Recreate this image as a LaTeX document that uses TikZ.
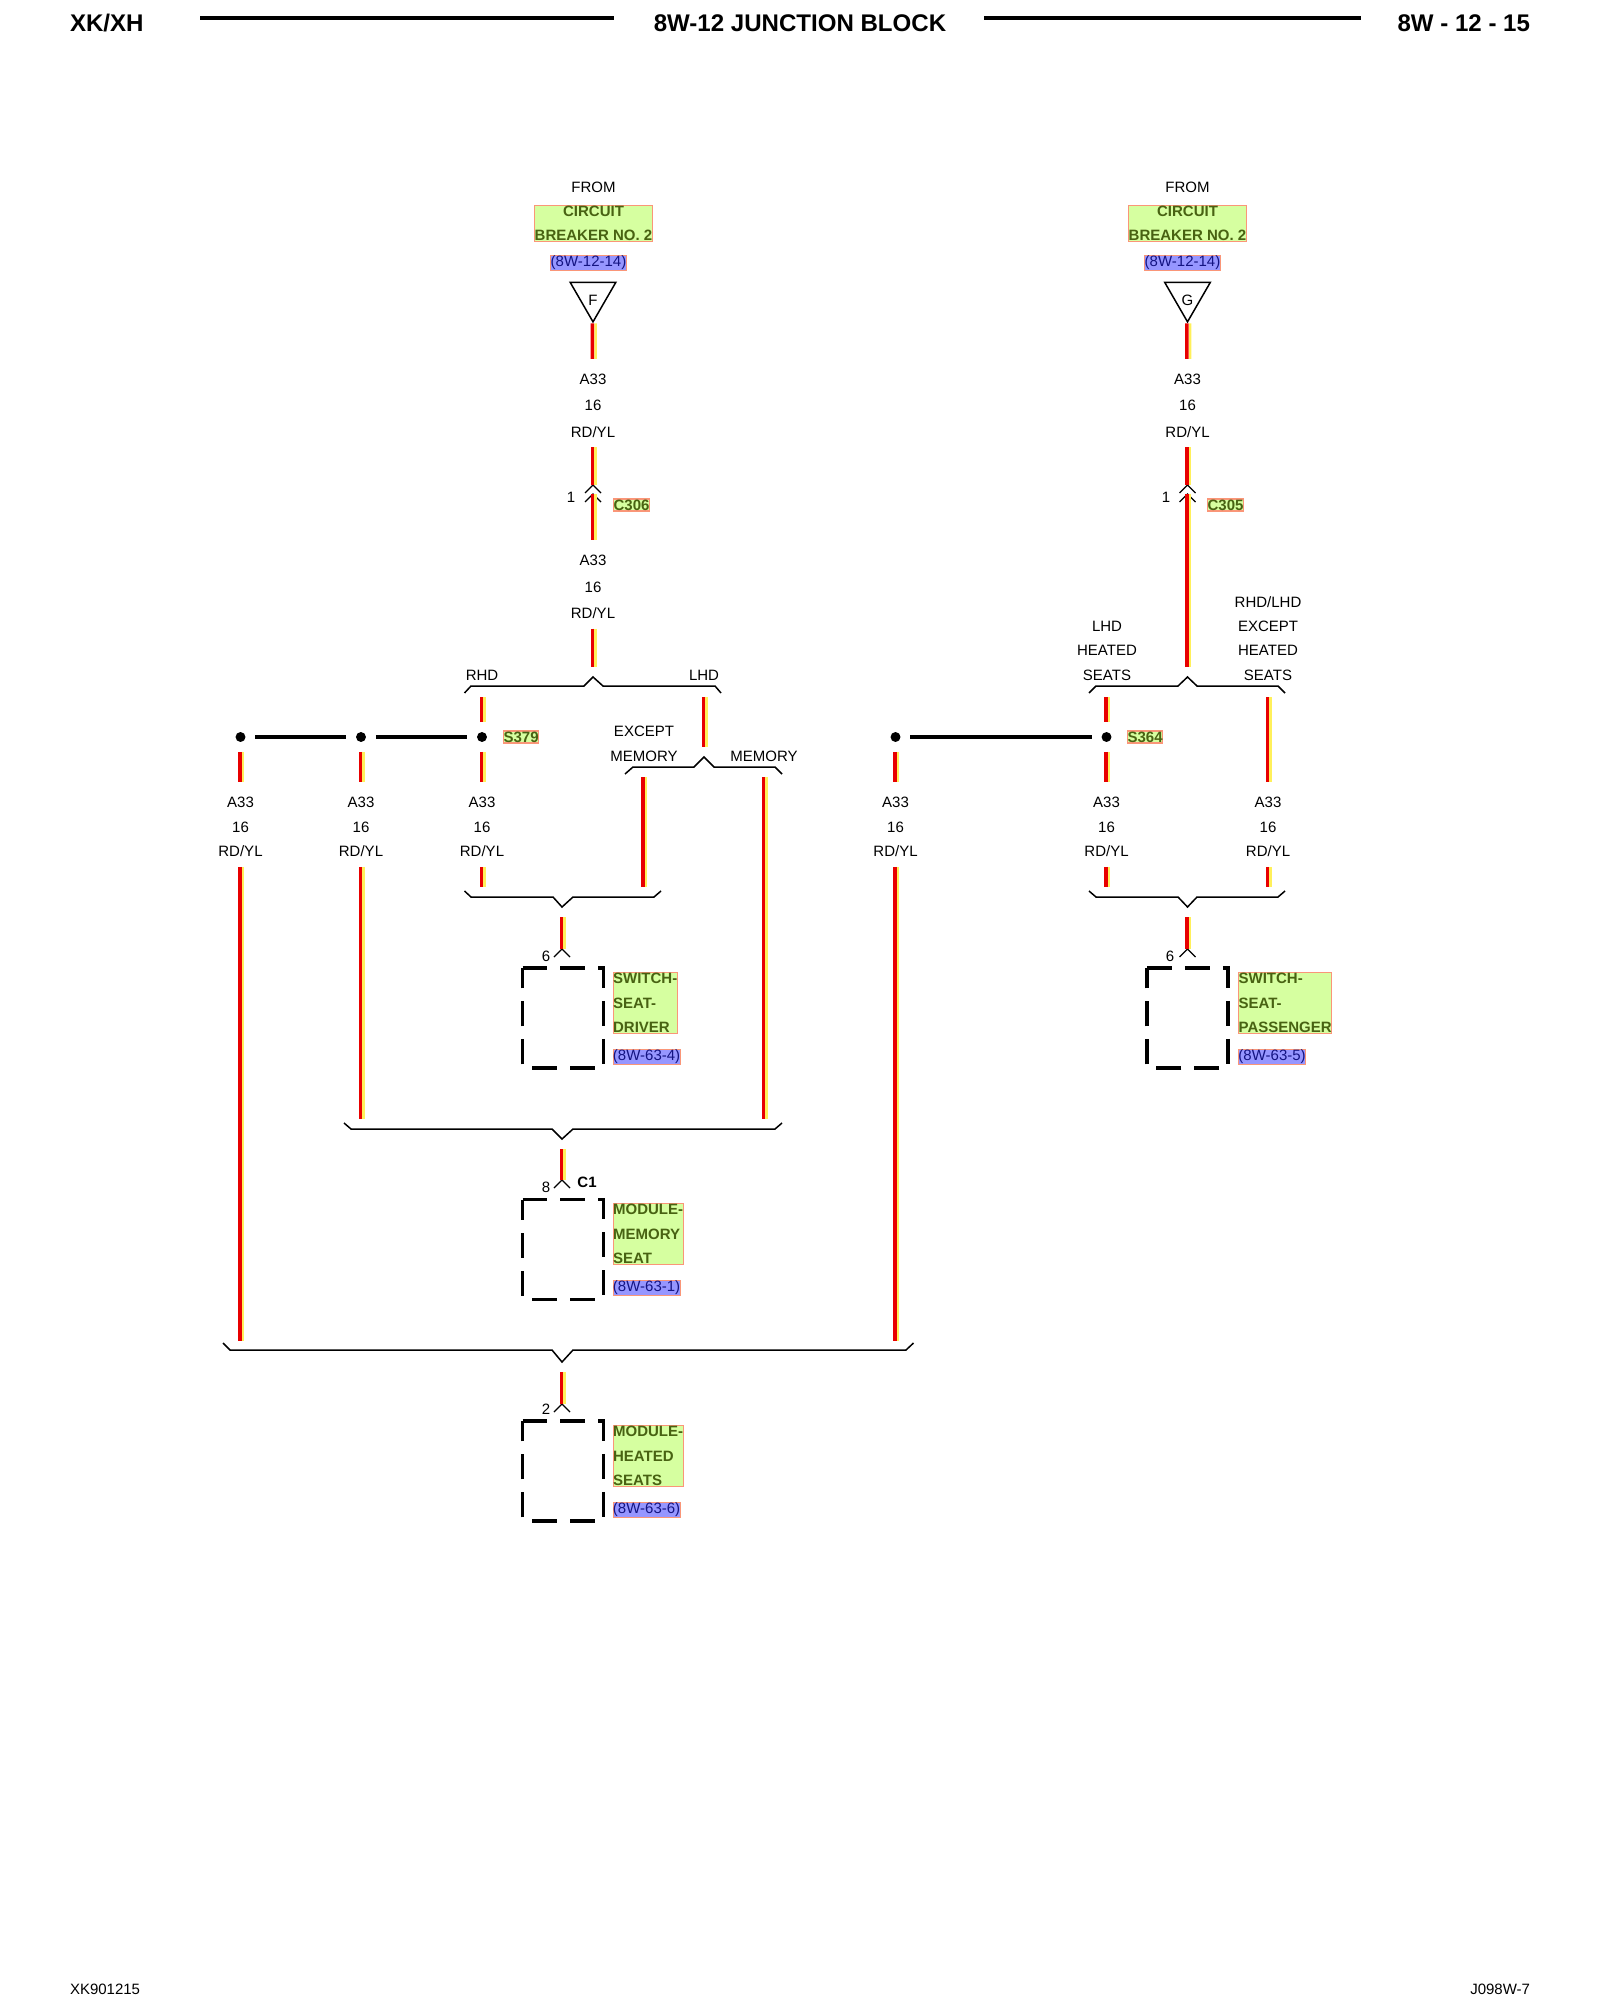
\documentclass[tikz,border=0pt]{standalone}
\usepackage{fontspec}
\setmainfont{Liberation Sans}
\usetikzlibrary{positioning,shapes.geometric}

\definecolor{wirered}{RGB}{232,0,0}
\definecolor{wireyl}{RGB}{255,240,90}
\definecolor{tagfill}{RGB}{214,255,160}
\definecolor{tagtext}{RGB}{72,98,18}
\definecolor{tagline}{RGB}{250,150,120}
\definecolor{reffill}{RGB}{150,150,255}
\definecolor{reftext}{RGB}{20,20,130}

\tikzset{
  txt/.style={inner sep=0pt,outer sep=0pt,text height=6.1pt,text depth=0pt,font=\fontsize{8.54}{10}\selectfont},
  wlbl/.style={inner sep=0pt,outer sep=0pt,align=center,font=\fontsize{8.54}{13.9}\selectfont},
  wlbltop/.style={wlbl,font=\fontsize{8.54}{15}\selectfont},
  tag/.style={inner xsep=0pt,inner ysep=.4pt,draw=tagline,fill=tagfill,text=tagtext,line width=.7pt,align=left,font=\fontsize{8.54}{13.9}\selectfont\bfseries},
  ref/.style={inner xsep=0pt,inner ysep=.4pt,draw=tagline,fill=reffill,text=reftext,line width=.5pt,font=\fontsize{8.54}{10}\selectfont},
  head/.style={inner sep=0pt,outer sep=0pt,font=\fontsize{13.7}{16}\selectfont\bfseries},
  wire/.style={draw=wirered,line width=2pt,transform canvas={xshift=-.4pt},preaction={draw=wireyl,line width=1.5pt,transform canvas={xshift=1.5pt}}},
  to lbl/.style={shorten >=8.5pt},
  from lbl/.style={shorten <=5.7pt},
  to gap/.style={shorten >=5.7pt},
  from gap/.style={shorten <=5.7pt},
  bus/.style={draw=black,line width=2.2pt},
  spl/.style={circle,fill=black,inner sep=2pt,outer sep=5.6pt},
  forkline/.style={draw=black,line width=.85pt},
  srcmark/.style={draw=black,line width=.85pt,regular polygon,regular polygon sides=3,shape border rotate=180,minimum size=30pt,inner sep=0pt,font=\fontsize{8.54}{10}\selectfont},
  devbody/.style={minimum width=46.1pt,minimum height=56.9pt,inner sep=0pt,outer sep=0pt},
  dashbox/.style={draw=black,line width=1.8pt,dash pattern=on 14.2pt off 7.4pt},
  chevron/.pic={\draw[black,line width=.7pt] (-8,8) -- (0,0) -- (8,8);}
}

\newcommand{\devbox}[2]{%
  \node[devbody] (#1) at (#2) {};
  \draw[dashbox] (#1.north west) -- (#1.north east) -- (#1.south east) -- (#1.south west) -- cycle;
}

\begin{document}
\begin{tikzpicture}[x=0.02cm,y=-0.02cm]
  \useasboundingbox (0,0) rectangle (1600,2000);

  % header and footer
  \node[head,anchor=west] (hleft) at (70,23) {XK/XH};
  \node[head] (htitle) at (800,23) {8W-12 JUNCTION BLOCK};
  \node[head,anchor=east] (hright) at (1530,23) {8W - 12 - 15};
  \draw[bus,line width=2.6pt] (200,18) -- (614,18);
  \draw[bus,line width=2.6pt] (984,18) -- (1361,18);
  \node[txt,anchor=west] (fleft) at (70,1989) {XK901215};
  \node[txt,anchor=east] (fright) at (1530,1989) {J098W-7};

  % feed F
  \node[tag,align=center] (cbf) at (593.5,223.5) {CIRCUIT\\BREAKER NO. 2};
  \node[txt,above=6.8pt of cbf] (fromf) {FROM};
  \node[ref] (reff) at (588.5,263) {(8W-12-14)};
  \node[srcmark] (srcf) at (593,295.5) {\raisebox{-5.6pt}[0pt][0pt]{F}};
  \node[wlbltop] (lblf) at (593,405.5) {A33\\16\\RD/YL};
  \coordinate (pinc) at (593,485);
  \coordinate (pincb) at (593,494);
  \pic at (pinc) {chevron};
  \pic at (pincb) {chevron};
  \node[txt] (nc) at (571,497) {1};
  \node[tag,font=\fontsize{8.54}{10}\selectfont\bfseries,anchor=west] (cf) at (613,505) {C306};
  \node[wlbltop] (lblg) at (593,587) {A33\\16\\RD/YL};

  \draw[wire,to lbl] (srcf.south) -- (lblf.north);
  \draw[wire,from lbl] (lblf.south) -- (pinc);
  \draw[wire,to lbl] (pincb) -- (lblg.north);

  % RHD / LHD
  \draw[forkline] (464.5,693) -- (471,686) -- (584,686) -- (593,677) coordinate (forka) -- (603,686) -- (715,686) -- (721,693);
  \node[txt] (rhd) at (482,675) {RHD};
  \node[txt] (lhd) at (704,675) {LHD};
  \draw[wire,from lbl,to gap] (lblg.south) -- (forka);
  \coordinate (legrhd) at (482,697);
  \coordinate (leglhd) at (704,697);

  \node[spl] (spa) at (240.5,737) {};
  \node[spl] (spb) at (361,737) {};
  \node[spl] (spc) at (482,737) {};
  \node[tag,font=\fontsize{8.54}{10}\selectfont\bfseries,anchor=west] (slf) at (503,737) {S379};
  \draw[bus] (spa) -- (spb);
  \draw[bus] (spb) -- (spc);
  \draw[wire] (legrhd) -- (spc);

  % memory split
  \node[txt] (exc) at (644,731) {EXCEPT};
  \node[txt] (memx) at (644,756) {MEMORY};
  \node[txt] (memy) at (764,756) {MEMORY};
  \draw[forkline] (625,774) -- (633,767) -- (694,767) -- (704,757) coordinate (forkb) -- (714,767) -- (775,767) -- (782,774);
  \draw[wire,to gap] (leglhd) -- (forkb);
  \coordinate (legx) at (643.5,777);
  \coordinate (legy) at (764,777);

  % wire labels
  \foreach \nm/\xx in {a33a/240.5,a33b/361,a33c/482,a33h/895.5,a33i/1106.5,a33j/1268}
    \node[wlbl] (\nm) at (\xx,827) {A33\\16\\RD/YL};

  \draw[wire,to lbl] (spa) -- (a33a.north);
  \draw[wire,to lbl] (spb) -- (a33b.north);
  \draw[wire,to lbl] (spc) -- (a33c.north);

  % driver switch
  \draw[forkline] (464.5,891) -- (471,897) -- (553,897) -- (562,907) coordinate (forkc) -- (573,897) -- (654,897) -- (661,891);
  \coordinate (endc) at (482,887);
  \coordinate (endx) at (643.5,887);
  \draw[wire,from lbl] (a33c.south) -- (endc);
  \draw[wire] (legx) -- (endx);
  \coordinate (pind) at (562,949);
  \pic at (pind) {chevron};
  \draw[wire,from gap] (forkc) -- (pind);
  \node[txt] (nd) at (546,956) {6};
  \devbox{boxd}{563,1018}
  \node[tag,anchor=north west] (tagd) at (612.5,972) {SWITCH-\\SEAT-\\DRIVER};
  \node[ref,below=8.4pt of tagd.south west,anchor=north west] (refd) {(8W-63-4)};

  % memory module
  \draw[forkline] (344,1123) -- (351,1129) -- (552,1129) -- (562,1139) coordinate (forkm) -- (573,1129) -- (775,1129) -- (782,1123);
  \coordinate (endb) at (361,1119);
  \coordinate (endy) at (764,1119);
  \draw[wire,from lbl] (a33b.south) -- (endb);
  \draw[wire] (legy) -- (endy);
  \coordinate (pinm) at (562,1180);
  \pic at (pinm) {chevron};
  \draw[wire,from gap] (forkm) -- (pinm);
  \node[txt] (nm) at (546,1187) {8};
  \node[txt,font=\fontsize{8.54}{10}\selectfont\bfseries] (cm) at (587,1182) {C1};
  \devbox{boxm}{563,1249.5}
  \node[tag,anchor=north west] (tagm) at (612.5,1203) {MODULE-\\MEMORY\\SEAT};
  \node[ref,below=8.4pt of tagm.south west,anchor=north west] (refm) {(8W-63-1)};

  % heated seats module
  \draw[forkline] (223,1343) -- (230,1350) -- (552,1350) -- (562,1362) coordinate (forkh) -- (573,1350) -- (906,1350) -- (913.5,1343);
  \coordinate (enda) at (240.5,1341);
  \coordinate (endh) at (895.5,1341);
  \draw[wire,from lbl] (a33a.south) -- (enda);
  \draw[wire,from lbl] (a33h.south) -- (endh);
  \coordinate (pinh) at (562,1404);
  \pic at (pinh) {chevron};
  \draw[wire,from gap] (forkh) -- (pinh);
  \node[txt] (nh) at (546,1409) {2};
  \devbox{boxh}{563,1471}
  \node[tag,anchor=north west] (tagh) at (612.5,1425) {MODULE-\\HEATED\\SEATS};
  \node[ref,below=8.4pt of tagh.south west,anchor=north west] (refh) {(8W-63-6)};

  % feed G
  \node[tag,align=center] (cbg) at (1187.5,223.5) {CIRCUIT\\BREAKER NO. 2};
  \node[txt,above=6.8pt of cbg] (fromg) {FROM};
  \node[ref] (refg) at (1182.5,263) {(8W-12-14)};
  \node[srcmark] (srcg) at (1187.5,295.5) {\raisebox{-5.6pt}[0pt][0pt]{G}};
  \node[wlbltop] (lblk) at (1187.5,405.5) {A33\\16\\RD/YL};
  \coordinate (pine) at (1187.5,485);
  \coordinate (pineb) at (1187.5,494);
  \pic at (pine) {chevron};
  \pic at (pineb) {chevron};
  \node[txt] (ne) at (1166,497) {1};
  \node[tag,font=\fontsize{8.54}{10}\selectfont\bfseries,anchor=west] (ce) at (1207,505) {C305};
  \draw[wire,to lbl] (srcg.south) -- (lblk.north);
  \draw[wire,from lbl] (lblk.south) -- (pine);

  % LHD / RHD heated split
  \draw[forkline] (1089,693) -- (1096,686) -- (1178,686) -- (1187.5,677) coordinate (forkr) -- (1197,686) -- (1278,686) -- (1285,693);
  \draw[wire,to gap] (pineb) -- (forkr);
  \node[wlbl,anchor=south] (lhdh) at (1107,680.5) {LHD\\HEATED\\SEATS};
  \node[wlbl,anchor=south] (rhdh) at (1268,680.5) {RHD/LHD\\EXCEPT\\HEATED\\SEATS};
  \coordinate (legi) at (1106.5,697);
  \coordinate (legj) at (1268,697);
  \node[spl] (sph) at (895.5,737) {};
  \node[spl] (spi) at (1106.5,737) {};
  \node[tag,font=\fontsize{8.54}{10}\selectfont\bfseries,anchor=west] (slg) at (1127,737) {S364};
  \draw[bus] (sph) -- (spi);
  \draw[wire] (legi) -- (spi);
  \draw[wire,to lbl] (spi) -- (a33i.north);
  \draw[wire,to lbl] (sph) -- (a33h.north);
  \draw[wire,to lbl] (legj) -- (a33j.north);

  % passenger switch
  \draw[forkline] (1089,891) -- (1096,897) -- (1178,897) -- (1187.5,907) coordinate (forkp) -- (1197,897) -- (1278,897) -- (1285,891);
  \coordinate (endi) at (1106.5,887);
  \coordinate (endj) at (1268,887);
  \draw[wire,from lbl] (a33i.south) -- (endi);
  \draw[wire,from lbl] (a33j.south) -- (endj);
  \coordinate (pinp) at (1187.5,949);
  \pic at (pinp) {chevron};
  \draw[wire,from gap] (forkp) -- (pinp);
  \node[txt] (np) at (1170,956) {6};
  \devbox{boxp}{1187.5,1018}
  \node[tag,anchor=north west] (tagp) at (1238,972) {SWITCH-\\SEAT-\\PASSENGER};
  \node[ref,below=8.4pt of tagp.south west,anchor=north west] (refp) {(8W-63-5)};
\end{tikzpicture}
\end{document}
